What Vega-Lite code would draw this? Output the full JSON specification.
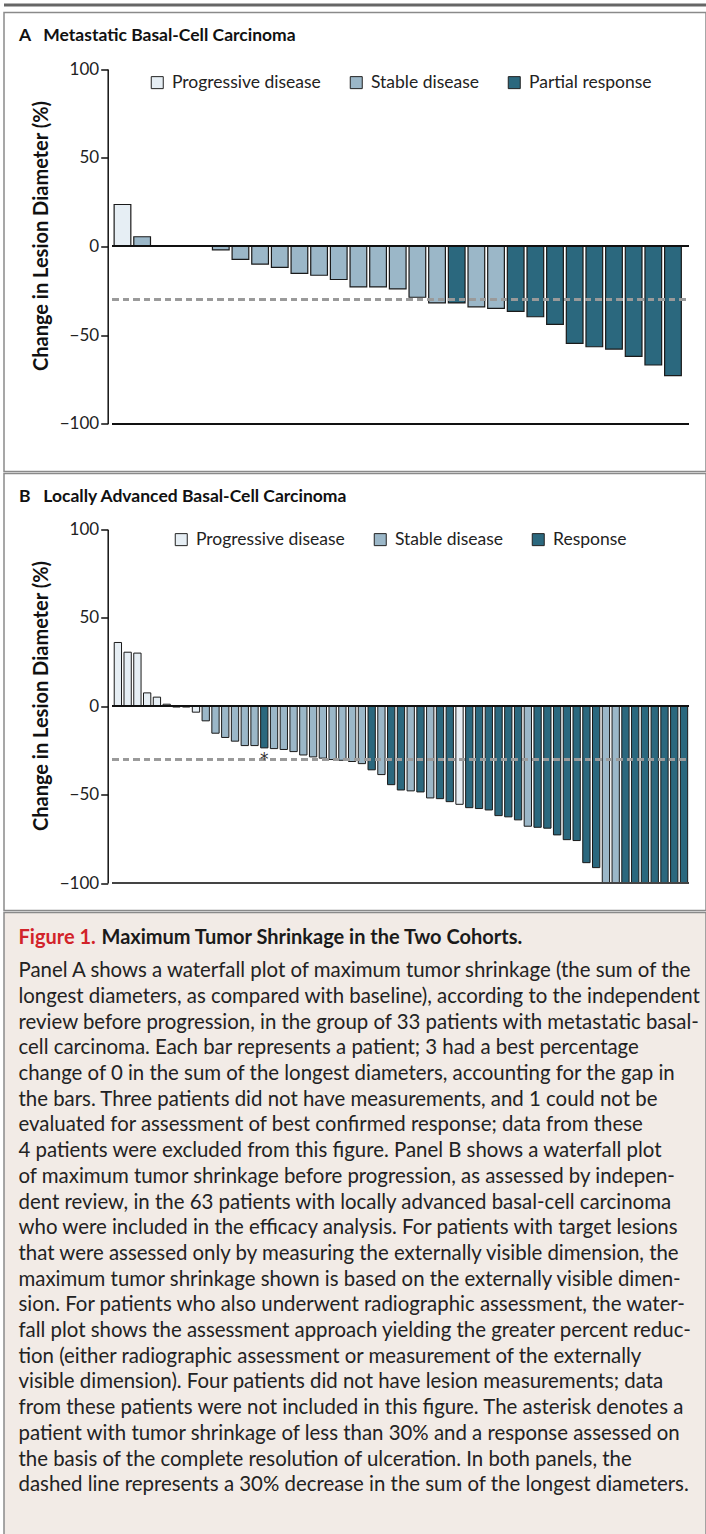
{
  "$schema": "https://vega.github.io/schema/vega-lite/v6.json",
  "padding": {"left": 3, "top": 3.5, "right": 0, "bottom": 0},
  "background": "white",
  "spacing": 5,
  "config": {"font": "Lato", "view": {"stroke": null}},
  "datasets": {
    "panelA": [
      {"slot": 1, "change": 23.6, "resp": "Progressive disease"},
      {"slot": 2, "change": 5.4, "resp": "Stable disease"},
      {"slot": 3, "change": 0, "resp": "Stable disease"},
      {"slot": 4, "change": 0, "resp": "Stable disease"},
      {"slot": 5, "change": 0, "resp": "Stable disease"},
      {"slot": 6, "change": -2, "resp": "Stable disease"},
      {"slot": 7, "change": -7.3, "resp": "Stable disease"},
      {"slot": 8, "change": -10, "resp": "Stable disease"},
      {"slot": 9, "change": -11.8, "resp": "Stable disease"},
      {"slot": 10, "change": -15.2, "resp": "Stable disease"},
      {"slot": 11, "change": -16.3, "resp": "Stable disease"},
      {"slot": 12, "change": -18.7, "resp": "Stable disease"},
      {"slot": 13, "change": -22.9, "resp": "Stable disease"},
      {"slot": 14, "change": -22.9, "resp": "Stable disease"},
      {"slot": 15, "change": -24, "resp": "Stable disease"},
      {"slot": 16, "change": -28.7, "resp": "Stable disease"},
      {"slot": 17, "change": -31.9, "resp": "Stable disease"},
      {"slot": 18, "change": -31.9, "resp": "Partial response"},
      {"slot": 19, "change": -34.1, "resp": "Stable disease"},
      {"slot": 20, "change": -35, "resp": "Stable disease"},
      {"slot": 21, "change": -36.7, "resp": "Partial response"},
      {"slot": 22, "change": -39.7, "resp": "Partial response"},
      {"slot": 23, "change": -44, "resp": "Partial response"},
      {"slot": 24, "change": -54.7, "resp": "Partial response"},
      {"slot": 25, "change": -56.6, "resp": "Partial response"},
      {"slot": 26, "change": -57.9, "resp": "Partial response"},
      {"slot": 27, "change": -62, "resp": "Partial response"},
      {"slot": 28, "change": -66.9, "resp": "Partial response"},
      {"slot": 29, "change": -72.9, "resp": "Partial response"}
    ],
    "panelB": [
      {"slot": 1, "change": 36, "resp": "Progressive disease", "note": ""},
      {"slot": 2, "change": 30.5, "resp": "Progressive disease", "note": ""},
      {"slot": 3, "change": 30, "resp": "Progressive disease", "note": ""},
      {"slot": 4, "change": 7.5, "resp": "Progressive disease", "note": ""},
      {"slot": 5, "change": 5.1, "resp": "Progressive disease", "note": ""},
      {"slot": 6, "change": 1.1, "resp": "Progressive disease", "note": ""},
      {"slot": 7, "change": -0.5, "resp": "Progressive disease", "note": ""},
      {"slot": 8, "change": -0.5, "resp": "Progressive disease", "note": ""},
      {"slot": 9, "change": -3.4, "resp": "Progressive disease", "note": ""},
      {"slot": 10, "change": -8.3, "resp": "Stable disease", "note": ""},
      {"slot": 11, "change": -15.3, "resp": "Stable disease", "note": ""},
      {"slot": 12, "change": -17.7, "resp": "Stable disease", "note": ""},
      {"slot": 13, "change": -19.8, "resp": "Stable disease", "note": ""},
      {"slot": 14, "change": -22.3, "resp": "Stable disease", "note": ""},
      {"slot": 15, "change": -22.3, "resp": "Stable disease", "note": ""},
      {"slot": 16, "change": -23.6, "resp": "Response", "note": "*"},
      {"slot": 17, "change": -24, "resp": "Stable disease", "note": ""},
      {"slot": 18, "change": -24.5, "resp": "Stable disease", "note": ""},
      {"slot": 19, "change": -25.7, "resp": "Stable disease", "note": ""},
      {"slot": 20, "change": -27.6, "resp": "Stable disease", "note": ""},
      {"slot": 21, "change": -28.7, "resp": "Stable disease", "note": ""},
      {"slot": 22, "change": -29.4, "resp": "Stable disease", "note": ""},
      {"slot": 23, "change": -30.2, "resp": "Stable disease", "note": ""},
      {"slot": 24, "change": -30.6, "resp": "Stable disease", "note": ""},
      {"slot": 25, "change": -31.3, "resp": "Stable disease", "note": ""},
      {"slot": 26, "change": -32.5, "resp": "Stable disease", "note": ""},
      {"slot": 27, "change": -36, "resp": "Response", "note": ""},
      {"slot": 28, "change": -38.7, "resp": "Stable disease", "note": ""},
      {"slot": 29, "change": -44.4, "resp": "Response", "note": ""},
      {"slot": 30, "change": -47.4, "resp": "Response", "note": ""},
      {"slot": 31, "change": -47.9, "resp": "Stable disease", "note": ""},
      {"slot": 32, "change": -48.5, "resp": "Response", "note": ""},
      {"slot": 33, "change": -51.9, "resp": "Stable disease", "note": ""},
      {"slot": 34, "change": -52.3, "resp": "Response", "note": ""},
      {"slot": 35, "change": -54, "resp": "Response", "note": ""},
      {"slot": 36, "change": -55.5, "resp": "Progressive disease", "note": ""},
      {"slot": 37, "change": -57.4, "resp": "Response", "note": ""},
      {"slot": 38, "change": -57.9, "resp": "Response", "note": ""},
      {"slot": 39, "change": -58.7, "resp": "Response", "note": ""},
      {"slot": 40, "change": -61.9, "resp": "Response", "note": ""},
      {"slot": 41, "change": -62.6, "resp": "Response", "note": ""},
      {"slot": 42, "change": -64.3, "resp": "Response", "note": ""},
      {"slot": 43, "change": -67.9, "resp": "Stable disease", "note": ""},
      {"slot": 44, "change": -68.5, "resp": "Response", "note": ""},
      {"slot": 45, "change": -69, "resp": "Response", "note": ""},
      {"slot": 46, "change": -72.8, "resp": "Response", "note": ""},
      {"slot": 47, "change": -75.5, "resp": "Response", "note": ""},
      {"slot": 48, "change": -76, "resp": "Response", "note": ""},
      {"slot": 49, "change": -88.5, "resp": "Response", "note": ""},
      {"slot": 50, "change": -91.3, "resp": "Response", "note": ""},
      {"slot": 51, "change": -100, "resp": "Stable disease", "note": ""},
      {"slot": 52, "change": -100, "resp": "Stable disease", "note": ""},
      {"slot": 53, "change": -100, "resp": "Response", "note": ""},
      {"slot": 54, "change": -100, "resp": "Response", "note": ""},
      {"slot": 55, "change": -100, "resp": "Response", "note": ""},
      {"slot": 56, "change": -100, "resp": "Response", "note": ""},
      {"slot": 57, "change": -100, "resp": "Response", "note": ""},
      {"slot": 58, "change": -100, "resp": "Response", "note": ""},
      {"slot": 59, "change": -100, "resp": "Response", "note": ""}
    ],
    "heading": [{"fig": "Figure 1.", "rest": "Maximum Tumor Shrinkage in the Two Cohorts."}],
    "caption": [
      {"n": 1, "t": "Panel A shows a waterfall plot of maximum tumor shrinkage (the sum of the"},
      {"n": 2, "t": "longest diameters, as compared with baseline), according to the independent"},
      {"n": 3, "t": "review before progression, in the group of 33 patients with metastatic basal-"},
      {"n": 4, "t": "cell carcinoma. Each bar represents a patient; 3 had a best percentage"},
      {"n": 5, "t": "change of 0 in the sum of the longest diameters, accounting for the gap in"},
      {"n": 6, "t": "the bars. Three patients did not have measurements, and 1 could not be"},
      {"n": 7, "t": "evaluated for assessment of best confirmed response; data from these"},
      {"n": 8, "t": "4 patients were excluded from this figure. Panel B shows a waterfall plot"},
      {"n": 9, "t": "of maximum tumor shrinkage before progression, as assessed by indepen-"},
      {"n": 10, "t": "dent review, in the 63 patients with locally advanced basal-cell carcinoma"},
      {"n": 11, "t": "who were included in the efficacy analysis. For patients with target lesions"},
      {"n": 12, "t": "that were assessed only by measuring the externally visible dimension, the"},
      {"n": 13, "t": "maximum tumor shrinkage shown is based on the externally visible dimen-"},
      {"n": 14, "t": "sion. For patients who also underwent radiographic assessment, the water-"},
      {"n": 15, "t": "fall plot shows the assessment approach yielding the greater percent reduc-"},
      {"n": 16, "t": "tion (either radiographic assessment or measurement of the externally"},
      {"n": 17, "t": "visible dimension). Four patients did not have lesion measurements; data"},
      {"n": 18, "t": "from these patients were not included in this figure. The asterisk denotes a"},
      {"n": 19, "t": "patient with tumor shrinkage of less than 30% and a response assessed on"},
      {"n": 20, "t": "the basis of the complete resolution of ulceration. In both panels, the"},
      {"n": 21, "t": "dashed line represents a 30% decrease in the sum of the longest diameters."}
    ]
  },
  "vconcat": [
    {
      "width": 702,
      "height": 3,
      "view": {"fill": "#666666", "stroke": null},
      "data": {"values": []},
      "mark": "text",
      "encoding": {}
    },
    {
      "spacing": 0,
      "resolve": {"scale": {"color": "independent"}, "legend": {"color": "independent"}},
      "vconcat": [
        {
          "width": 702,
          "height": 459,
          "view": {"stroke": "#8a8a8a", "strokeWidth": 1.5},
          "title": {"text": "A\u00a0\u00a0 Metastatic Basal-Cell Carcinoma", "anchor": "start", "frame": "group", "offset": -41, "dx": 15, "fontSize": 17.5, "fontWeight": "bold", "color": "#111111", "baseline": "middle", "font": "Lato"},
          "data": {"name": "panelA"},
          "layer": [
            {
              "mark": {"type": "bar", "orient": "vertical", "width": 16.7, "stroke": "#1a1a1a", "strokeWidth": 1.2},
              "encoding": {
                "x": {"field": "slot", "type": "quantitative", "scale": {"domain": [0.4925, 29.79], "range": [103.5, 689.5], "nice": false, "zero": false}, "axis": null},
                "y": {"field": "change", "type": "quantitative", "scale": {"domain": [-100, 100], "range": [411.2, 56.5], "nice": false, "zero": false},
                  "axis": {"values": [-100, -50, 0, 50, 100], "offset": -103.7, "grid": false, "domainColor": "#111111", "domainWidth": 1.5, "tickColor": "#111111", "tickWidth": 1.5, "tickSize": 7, "labelFontSize": 17, "labelFont": "Lato", "labelColor": "#222222", "labelPadding": 2,
                    "title": "Change in Lesion Diameter (%)", "titleFont": "Lato", "titleFontSize": 20, "titleFontWeight": "bold", "titleColor": "#111111", "titleX": -66, "titleY": 223, "titleAngle": -90, "titleAlign": "center", "titleBaseline": "middle"}},
                "y2": {"datum": 0},
                "color": {"field": "resp", "type": "nominal",
                  "scale": {"domain": ["Progressive disease", "Stable disease", "Partial response"], "range": ["#e6eef4", "#9bb7c8", "#2b687e"]},
                  "legend": {"orient": "none", "legendX": 144.5, "legendY": 61, "direction": "horizontal", "title": null, "symbolType": "square", "symbolSize": 144, "symbolStrokeColor": "#222222", "symbolStrokeWidth": 1, "symbolOpacity": 1, "labelFontSize": 17.5, "labelFont": "Lato", "labelColor": "#222222", "labelOffset": 6, "columnPadding": 26}}
              }
            },
            {
              "mark": {"type": "rule", "color": "#111111", "strokeWidth": 1.5},
              "encoding": {"x": {"datum": 0.4925}, "x2": {"datum": 29.79}, "y": {"datum": 0}}
            },
            {
              "mark": {"type": "rule", "color": "#9a9a9a", "strokeWidth": 2, "strokeDash": [6, 4.5]},
              "encoding": {"x": {"datum": 0.4925}, "x2": {"datum": 29.79}, "y": {"datum": -30}}
            },
            {
              "mark": {"type": "rule", "color": "#111111", "strokeWidth": 1.5},
              "encoding": {"x": {"datum": 0.4925}, "x2": {"datum": 29.79}, "y": {"datum": -100}}
            }
          ]
        },
        {
          "width": 702,
          "height": 437,
          "view": {"stroke": "#8a8a8a", "strokeWidth": 1.5},
          "title": {"text": "B\u00a0\u00a0 Locally Advanced Basal-Cell Carcinoma", "anchor": "start", "frame": "group", "offset": -41, "dx": 15, "fontSize": 17.5, "fontWeight": "bold", "color": "#111111", "baseline": "middle", "font": "Lato"},
          "data": {"name": "panelB"},
          "layer": [
            {
              "mark": {"type": "bar", "orient": "vertical", "width": 7.3, "stroke": "#1a1a1a", "strokeWidth": 1},
              "encoding": {
                "x": {"field": "slot", "type": "quantitative", "scale": {"domain": [0.449, 59.46], "range": [103.5, 689.5], "nice": false, "zero": false}, "axis": null},
                "y": {"field": "change", "type": "quantitative", "scale": {"domain": [-100, 100], "range": [409.5, 55.8], "nice": false, "zero": false},
                  "axis": {"values": [-100, -50, 0, 50, 100], "offset": -103.7, "grid": false, "domainColor": "#111111", "domainWidth": 1.5, "tickColor": "#111111", "tickWidth": 1.5, "tickSize": 7, "labelFontSize": 17, "labelFont": "Lato", "labelColor": "#222222", "labelPadding": 2,
                    "title": "Change in Lesion Diameter (%)", "titleFont": "Lato", "titleFontSize": 20, "titleFontWeight": "bold", "titleColor": "#111111", "titleX": -66, "titleY": 222, "titleAngle": -90, "titleAlign": "center", "titleBaseline": "middle"}},
                "y2": {"datum": 0},
                "color": {"field": "resp", "type": "nominal",
                  "scale": {"domain": ["Progressive disease", "Stable disease", "Response"], "range": ["#e6eef4", "#9bb7c8", "#2b687e"]},
                  "legend": {"orient": "none", "legendX": 168.5, "legendY": 57, "direction": "horizontal", "title": null, "symbolType": "square", "symbolSize": 144, "symbolStrokeColor": "#222222", "symbolStrokeWidth": 1, "symbolOpacity": 1, "labelFontSize": 17.5, "labelFont": "Lato", "labelColor": "#222222", "labelOffset": 6, "columnPadding": 26}}
              }
            },
            {
              "mark": {"type": "rule", "color": "#111111", "strokeWidth": 1.5},
              "encoding": {"x": {"datum": 0.449}, "x2": {"datum": 59.46}, "y": {"datum": 0}}
            },
            {
              "mark": {"type": "rule", "color": "#9a9a9a", "strokeWidth": 2, "strokeDash": [6, 4.5]},
              "encoding": {"x": {"datum": 0.449}, "x2": {"datum": 59.46}, "y": {"datum": -30}}
            },
            {
              "mark": {"type": "rule", "color": "#444444", "strokeWidth": 2},
              "encoding": {"x": {"datum": 0.449}, "x2": {"datum": 59.46}, "y": {"datum": -100}}
            },
            {
              "transform": [{"filter": "datum.note == '*'"}],
              "mark": {"type": "text", "fontSize": 17, "color": "#333333", "baseline": "alphabetic", "align": "center", "dy": 6, "font": "DejaVu Sans"},
              "encoding": {"x": {"field": "slot", "type": "quantitative"}, "y": {"datum": -30}, "text": {"field": "note"}}
            }
          ]
        },
        {
          "width": 702,
          "height": 625,
          "view": {"fill": "#f2ebe6", "stroke": "#8a8a8a", "strokeWidth": 1.5},
          "layer": [
            {
              "data": {"name": "heading"},
              "mark": {"type": "text", "align": "left", "baseline": "middle", "fontSize": 20, "fontWeight": "bold", "color": "#d2232a", "font": "Lato"},
              "encoding": {
                "x": {"datum": 0, "scale": {"domain": [0, 1], "range": [14.5, 690], "nice": false, "zero": false}, "axis": null},
                "y": {"datum": -0.28, "scale": {"domain": [0, 21], "range": [33, 572.7], "nice": false, "zero": false}, "axis": null},
                "text": {"field": "fig"}
              }
            },
            {
              "data": {"name": "heading"},
              "mark": {"type": "text", "align": "left", "baseline": "middle", "fontSize": 20, "fontWeight": "bold", "color": "#1a1a1a", "font": "Lato", "dx": 83},
              "encoding": {
                "x": {"datum": 0},
                "y": {"datum": -0.28},
                "text": {"field": "rest"}
              }
            },
            {
              "data": {"name": "caption"},
              "mark": {"type": "text", "align": "left", "baseline": "middle", "fontSize": 20.4, "color": "#222222", "font": "Lato"},
              "encoding": {
                "x": {"datum": 0},
                "y": {"field": "n", "type": "quantitative"},
                "text": {"field": "t"}
              }
            }
          ]
        }
      ]
    }
  ]
}
